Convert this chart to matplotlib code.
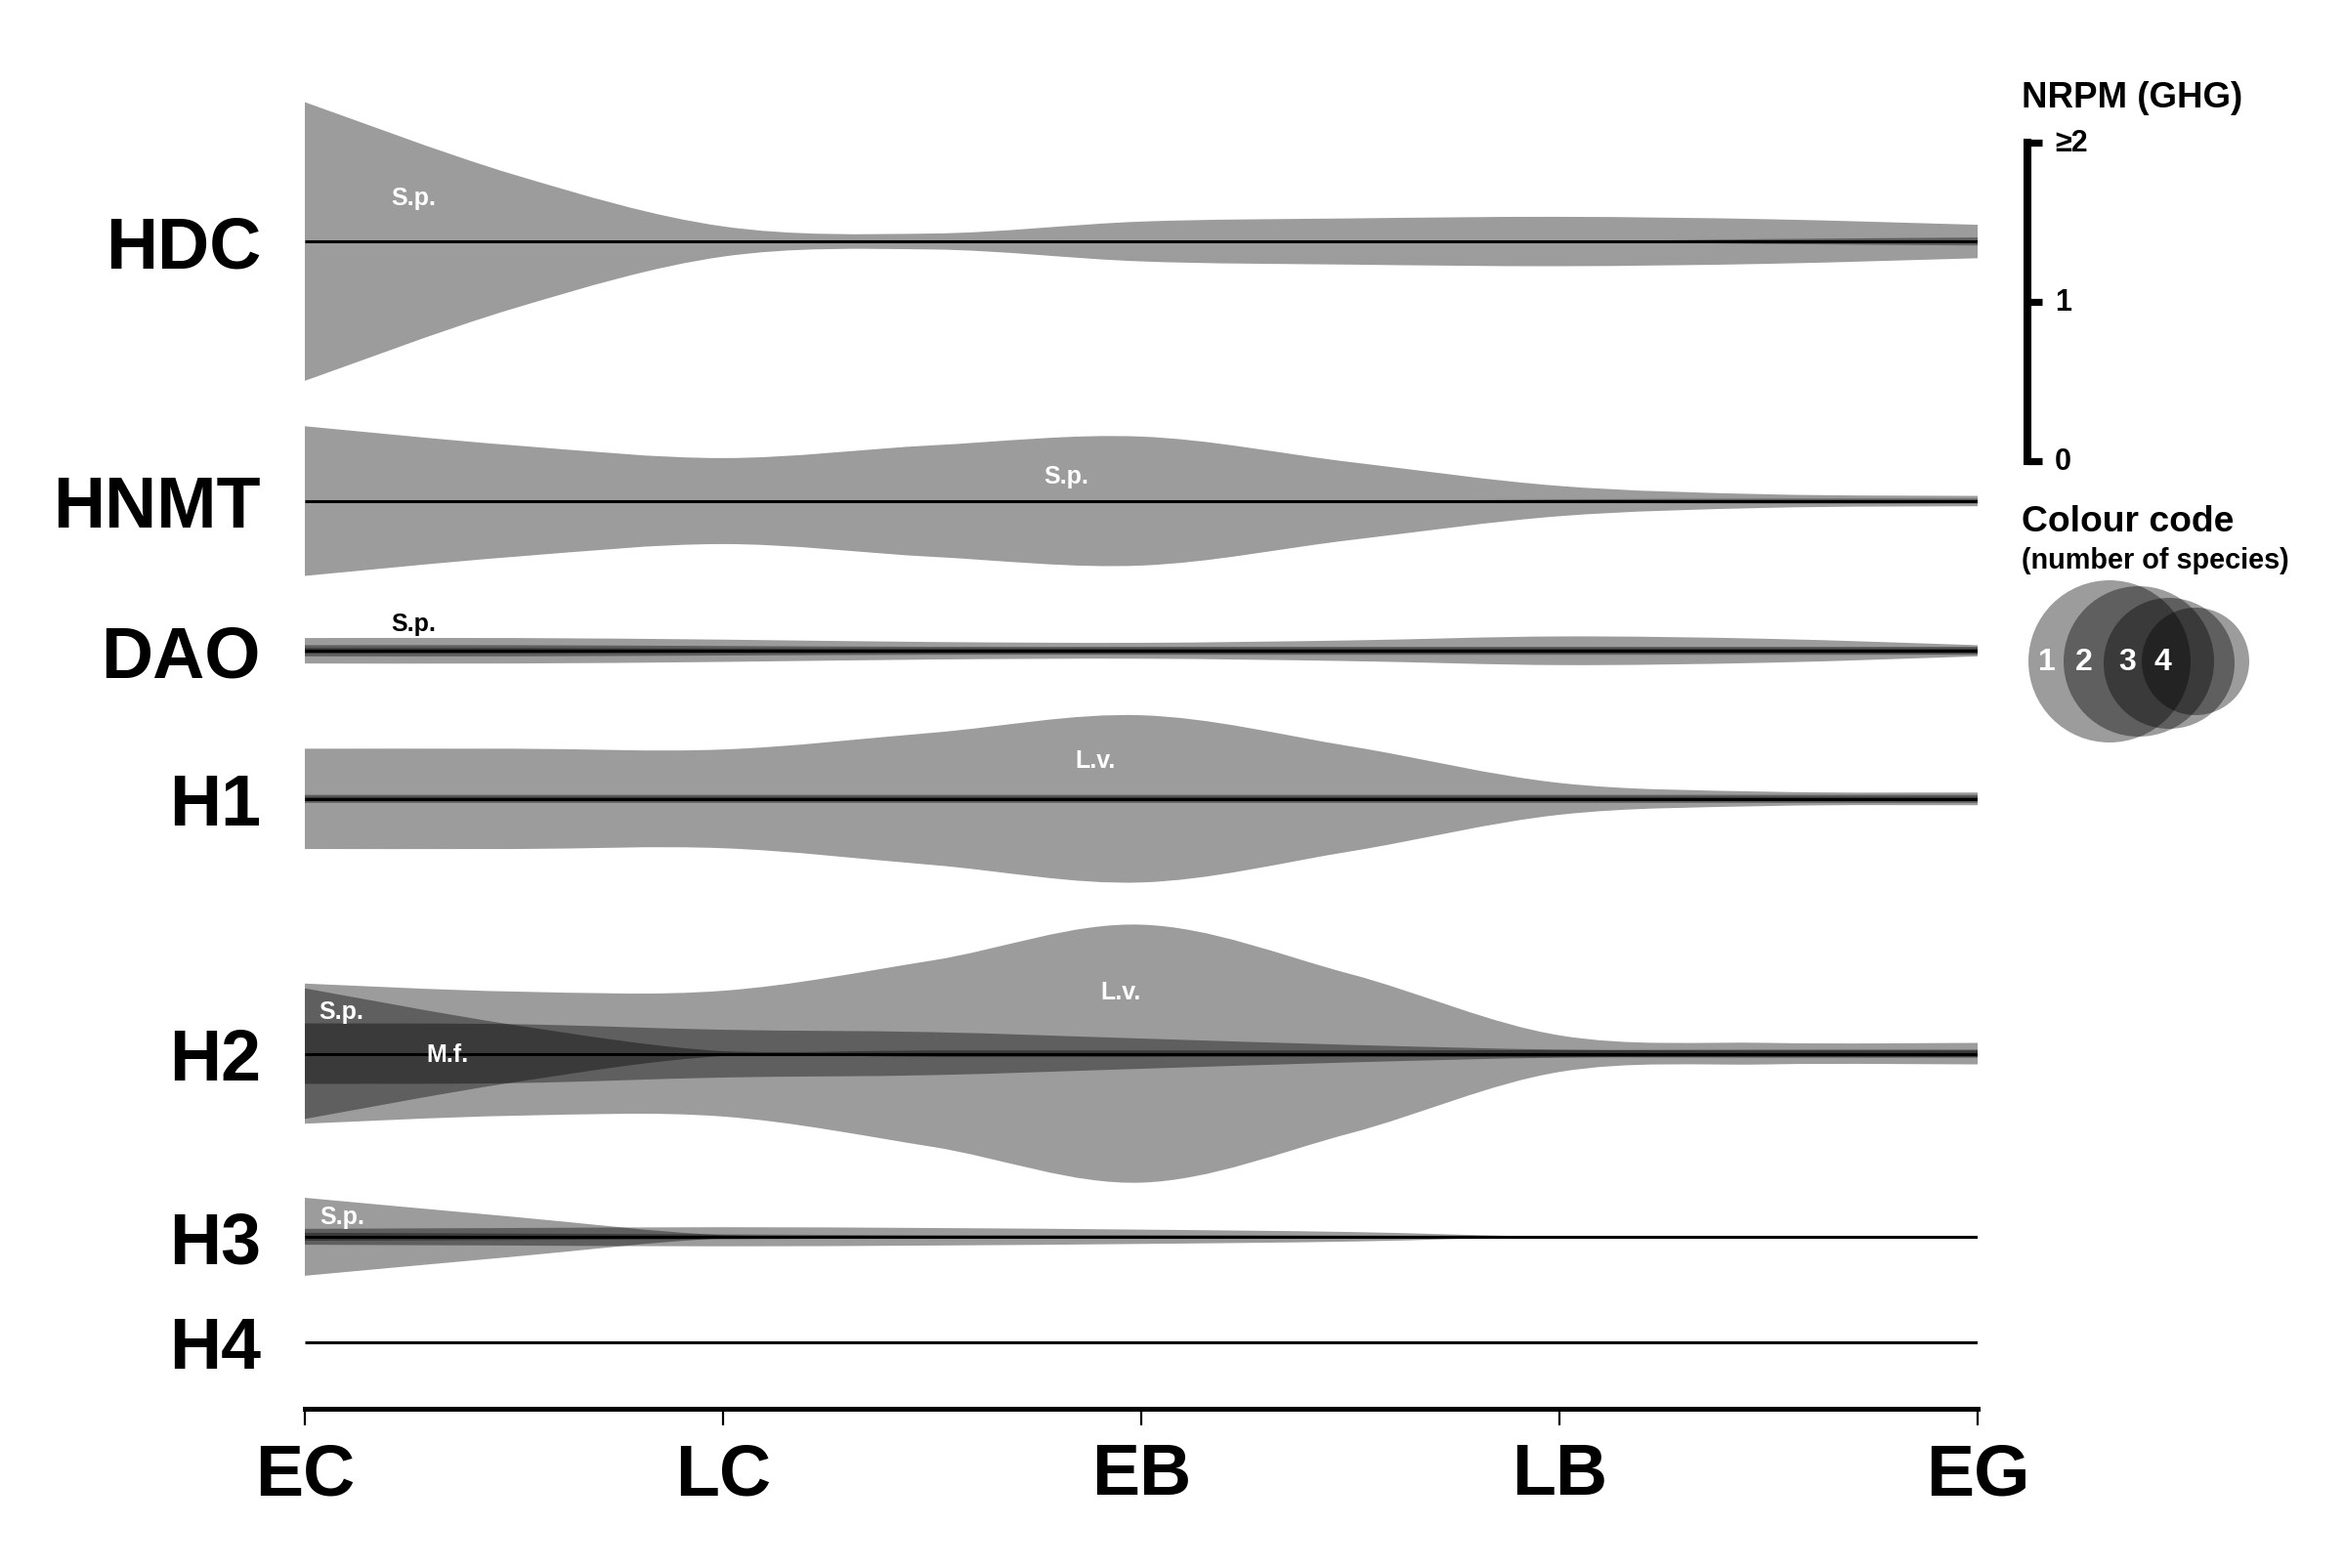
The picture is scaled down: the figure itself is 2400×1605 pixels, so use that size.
import numpy as np
import matplotlib
matplotlib.use("Agg")
import matplotlib.pyplot as plt
from matplotlib.path import Path
from matplotlib.patches import PathPatch, Circle

plt.rcParams['font.family'] = ['Liberation Sans', 'DejaVu Sans']
plt.rcParams['font.weight'] = 'bold'

# developmental stages and the half-stage points the profiles were read at
stages = ['EC', 'LC', 'EB', 'LB', 'EG']
t = [0, 0.5, 1, 1.5, 2, 2.5, 3, 3.5, 4]

genes = ['HDC', 'HNMT', 'DAO', 'H1', 'H2', 'H3', 'H4']
row_y = [7.33, 5.70, 4.76, 3.83, 2.23, 1.08, 0.42]   # row centre (NRPM units above axis)

# NRPM (GHG) per gene and species, at the points in t
hdc_sp = [1.75, 0.84, 0.19, 0.10, 0.25, 0.29, 0.31, 0.28, 0.21]
hdc_mf = [0, 0, 0, 0, 0, 0, 0, 0.03, 0.05]

hnmt_sp = [0.94, 0.70, 0.54, 0.70, 0.81, 0.49, 0.19, 0.085, 0.065]
hnmt_mf = [0, 0, 0, 0, 0, 0, 0.02, 0.03, 0.03]

dao_sp = [0.16, 0.16, 0.14, 0.11, 0.10, 0.13, 0.18, 0.15, 0.07]
dao_lv = [0.07, 0.07, 0.06, 0.05, 0.05, 0.05, 0.05, 0.05, 0.05]
dao_mf = [0.035, 0.035, 0.03, 0.03, 0.03, 0.03, 0.03, 0.03, 0.03]

h1_lv = [0.63, 0.63, 0.62, 0.83, 1.05, 0.66, 0.20, 0.09, 0.08]
h1_sp = [0.05, 0.05, 0.05, 0.05, 0.05, 0.05, 0.05, 0.05, 0.05]
h1_mf = [0.025, 0.025, 0.025, 0.025, 0.025, 0.025, 0.025, 0.025, 0.025]

h2_lv = [0.88, 0.78, 0.79, 1.17, 1.62, 1.00, 0.23, 0.135, 0.135]
h2_sp = [0.82, 0.36, 0.03, 0.04, 0.04, 0.04, 0.045, 0.05, 0.05]
h2_mf = [0.38, 0.37, 0.30, 0.27, 0.19, 0.11, 0.05, 0.04, 0.04]

h3_sp = [0.49, 0.25, 0.02, 0.01, 0, 0, 0, 0, 0]
h3_lv = [0.10, 0.11, 0.12, 0.11, 0.09, 0.06, 0, 0, 0]
h3_mf = [0.05, 0.04, 0.03, 0.02, 0.02, 0.015, 0.01, 0, 0]

bands = {
    'HDC': [hdc_sp, hdc_mf],
    'HNMT': [hnmt_sp, hnmt_mf],
    'DAO': [dao_sp, dao_lv, dao_mf],
    'H1': [h1_lv, h1_sp, h1_mf],
    'H2': [h2_lv, h2_sp, h2_mf],
    'H3': [h3_sp, h3_lv, h3_mf],
    'H4': [],
}

# species tags: gene, text, stage position, offset from row centre, colour
tags = [
    ('HDC', 'S.p.', 0.26, 0.28, 'white'),
    ('HNMT', 'S.p.', 1.82, 0.16, 'white'),
    ('DAO', 'S.p.', 0.26, 0.17, 'black'),
    ('H1', 'L.v.', 1.89, 0.245, 'white'),
    ('H2', 'S.p.', 0.087, 0.27, 'white'),
    ('H2', 'M.f.', 0.34, 0.0, 'white'),
    ('H2', 'L.v.', 1.95, 0.39, 'white'),
    ('H3', 'S.p.', 0.09, 0.13, 'white'),
]

scale_ticks = [0, 1, 2]
scale_labels = ['0', '1', '\u22652']
legend_counts = ['1', '2', '3', '4']


def band_patch(x, v, y0):
    # smooth symmetric band (Catmull-Rom -> cubic Bezier), half width = v/2
    x = np.asarray(x, float)
    h = np.asarray(v, float) / 2
    n = len(x)
    vx, vh = [x[0]], [h[0]]
    for i in range(n - 1):
        i0, i3 = max(i - 1, 0), min(i + 2, n - 1)
        vx += [x[i] + (x[i + 1] - x[i0]) / 6, x[i + 1] - (x[i3] - x[i]) / 6, x[i + 1]]
        vh += [max(h[i] + (h[i + 1] - h[i0]) / 6, 0), max(h[i + 1] - (h[i3] - h[i]) / 6, 0), h[i + 1]]
    vx, vh = np.array(vx), np.array(vh)
    top = np.column_stack([vx, y0 + vh])
    bot = np.column_stack([vx, y0 - vh])[::-1]
    verts = np.vstack([top, bot, top[:1]])
    m = len(top) - 1
    codes = [Path.MOVETO] + [Path.CURVE4] * m + [Path.LINETO] + [Path.CURVE4] * m + [Path.CLOSEPOLY]
    return PathPatch(Path(verts, codes), facecolor='black', alpha=0.39, lw=0)


W, H = 2400, 1606
fig = plt.figure(figsize=(W / 200, H / 200), dpi=200)
px = 163.0   # pixels per NRPM unit
x0, x1, yax = 312, 2024, 1443
ax = fig.add_axes([x0 / W, (H - yax) / H, (x1 - x0) / W, yax / H])
ax.set_xlim(0, 4)
ax.set_ylim(0, yax / px)

for g, y in zip(genes, row_y):
    for v in bands[g]:
        if max(v) > 0:
            ax.add_patch(band_patch(t, v, y))
    ax.plot([0, 4], [y, y], color='black', lw=1.1, solid_capstyle='butt', zorder=3)
    ax.text(-0.105, y - 0.16, g, ha='right', va='baseline', fontsize=26.5,
            fontweight='bold', clip_on=False)

for g, s, xs, dy, c in tags:
    y = row_y[genes.index(g)]
    ax.text(xs, y + dy, s, ha='center', va='center', fontsize=9,
            fontweight='bold', color=c, zorder=4)

for sp in ['left', 'top', 'right']:
    ax.spines[sp].set_visible(False)
ax.spines['bottom'].set_linewidth(1.8)
ax.spines['bottom'].set_bounds(0, 4)
ax.set_yticks([])
ax.set_xticks(range(len(stages)))
ax.set_xticklabels(stages, fontsize=26.5, fontweight='bold')
ax.tick_params(axis='x', length=6, width=0.8, pad=6)

# NRPM scale bar, drawn in data units of the main axes
sx = (2075 - x0) / ((x1 - x0) / 4)
sy0 = (yax - 473) / px
ax.plot([sx, sx], [sy0, sy0 + scale_ticks[-1]], color='black', lw=2.9,
        solid_capstyle='projecting', clip_on=False)
for v, lab in zip(scale_ticks, scale_labels):
    ax.plot([sx, sx + 0.035], [sy0 + v, sy0 + v], color='black', lw=2.6,
            solid_capstyle='butt', clip_on=False)
    ax.text(sx + 0.065, sy0 + v, lab, ha='left', va='center', fontsize=11,
            fontweight='bold', clip_on=False)

# legend in pixel coordinates
lax = fig.add_axes([0, 0, 1, 1])
lax.set_xlim(0, W)
lax.set_ylim(H, 0)
lax.axis('off')
lax.text(2069, 100, 'NRPM (GHG)', ha='left', va='center', fontsize=13.2, fontweight='bold')
lax.text(2069, 535, 'Colour code', ha='left', va='center', fontsize=13.4, fontweight='bold')
lax.text(2069, 574, '(number of species)', ha='left', va='center', fontsize=10.4, fontweight='bold')
circ = [(2159, 678, 83), (2189, 678, 77), (2220, 680, 67), (2247, 678, 55)]
num_x = [2095, 2133, 2177, 2213]
for (cx, cy, r), nx, lab in zip(circ, num_x, legend_counts):
    lax.add_patch(Circle((cx, cy), r, facecolor='black', alpha=0.39, lw=0))
    lax.text(nx, 678, lab, ha='center', va='center', fontsize=11.5,
             fontweight='bold', color='white', zorder=5)

fig.savefig('out.png', dpi=200)
